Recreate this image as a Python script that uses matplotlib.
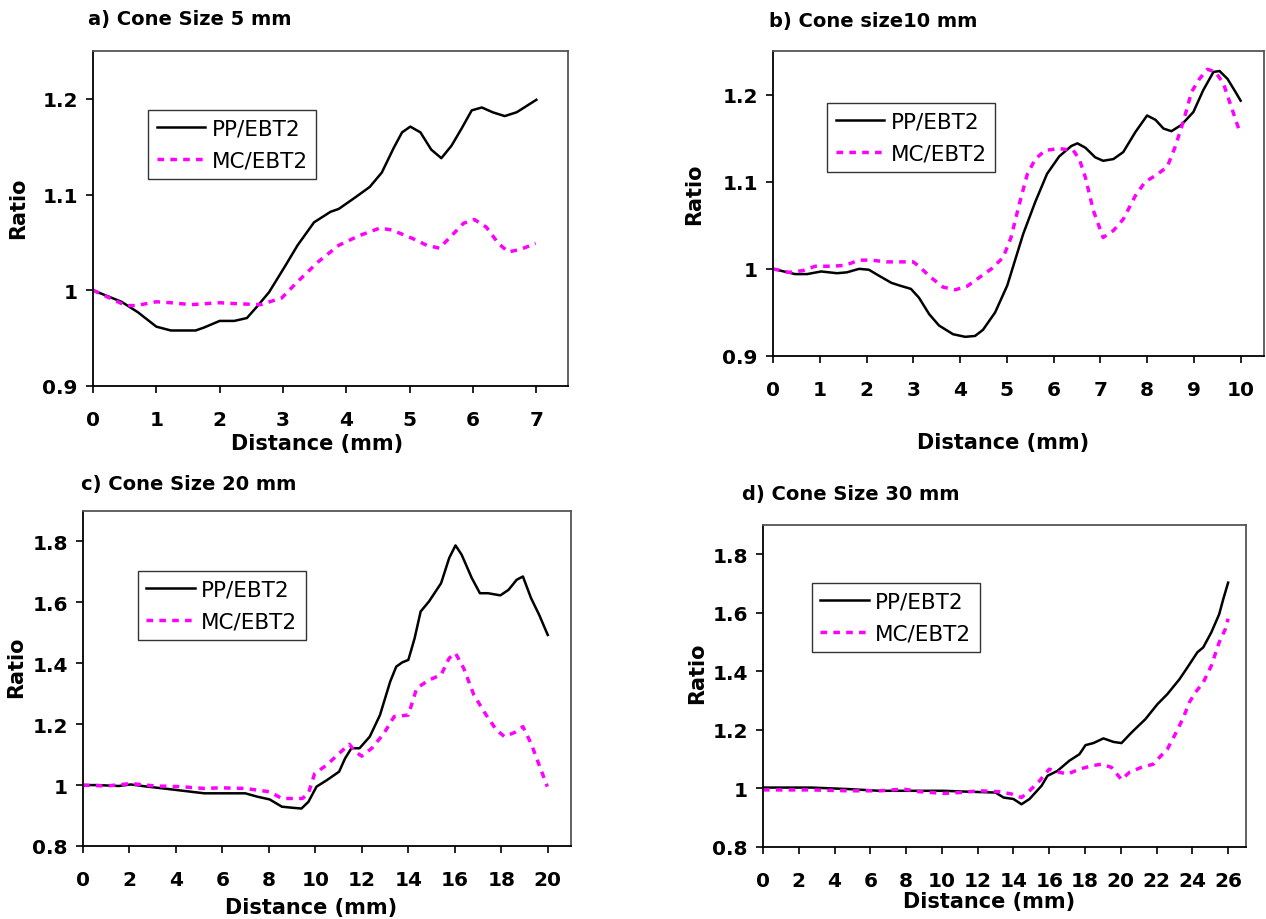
"""Cone size ratio profiles: PP/EBT2 and MC/EBT2."""
import matplotlib
matplotlib.use("Agg")
import matplotlib.pyplot as plt

# ---- data ----
a_pp_x = [0, 0.45, 0.71, 1.0, 1.23, 1.62, 1.75, 2.0, 2.23, 2.43, 2.59, 2.78, 3.04, 3.23, 3.49,
          3.75, 3.88, 4.14, 4.37, 4.56, 4.75, 4.88, 5.01, 5.17, 5.34, 5.5, 5.66, 5.82, 5.98,
          6.14, 6.31, 6.5, 6.69, 7.0]
a_pp_y = [1.0, 0.988, 0.977, 0.962, 0.958, 0.958, 0.961, 0.968, 0.968, 0.971, 0.983, 0.998,
          1.026, 1.047, 1.071, 1.082, 1.085, 1.097, 1.108, 1.123, 1.149, 1.165, 1.171, 1.165,
          1.147, 1.138, 1.151, 1.169, 1.188, 1.191, 1.186, 1.182, 1.186, 1.199]
a_mc_x = [0, 0.23, 0.52, 0.68, 1.0, 1.23, 1.55, 2.0, 2.26, 2.65, 2.98, 3.23, 3.56, 3.88, 4.2,
          4.53, 4.72, 5.05, 5.27, 5.47, 5.69, 5.85, 6.02, 6.21, 6.4, 6.56, 6.76, 6.99]
a_mc_y = [1.0, 0.993, 0.984, 0.984, 0.988, 0.987, 0.985, 0.987, 0.986, 0.985, 0.992, 1.009,
          1.030, 1.047, 1.057, 1.065, 1.063, 1.054, 1.047, 1.044, 1.059, 1.070, 1.074, 1.066,
          1.049, 1.040, 1.043, 1.049]

b_pp_x = [0, 0.47, 0.73, 1.03, 1.37, 1.58, 1.84, 2.05, 2.27, 2.53, 2.7, 2.95, 3.12, 3.34, 3.55,
          3.85, 4.11, 4.32, 4.49, 4.75, 5.01, 5.35, 5.61, 5.86, 6.12, 6.38, 6.51, 6.68, 6.89,
          7.06, 7.28, 7.49, 7.75, 8.0, 8.18, 8.35, 8.52, 8.73, 8.99, 9.2, 9.42, 9.55, 9.72,
          9.89, 10.0]
b_pp_y = [1.0, 0.994, 0.994, 0.997, 0.995, 0.996, 1.0, 0.999, 0.992, 0.984, 0.981, 0.977,
          0.967, 0.948, 0.935, 0.925, 0.922, 0.923, 0.930, 0.950, 0.981, 1.040, 1.077, 1.109,
          1.129, 1.141, 1.144, 1.139, 1.128, 1.124, 1.126, 1.134, 1.157, 1.176, 1.171, 1.161,
          1.158, 1.165, 1.180, 1.205, 1.226, 1.227, 1.218, 1.203, 1.193]
b_mc_x = [0, 0.34, 0.64, 0.9, 1.24, 1.54, 1.84, 2.1, 2.44, 2.74, 3.0, 3.12, 3.38, 3.64, 3.9,
          4.15, 4.41, 4.67, 4.92, 5.09, 5.27, 5.44, 5.61, 5.82, 6.12, 6.42, 6.55, 6.68, 6.85,
          7.06, 7.28, 7.49, 7.75, 7.96, 8.18, 8.43, 8.6, 8.78, 8.95, 9.12, 9.29, 9.46, 9.63,
          9.8, 9.97]
b_mc_y = [1.0, 0.996, 0.998, 1.003, 1.003, 1.004, 1.010, 1.010, 1.008, 1.008, 1.008, 1.003,
          0.990, 0.979, 0.976, 0.980, 0.990, 1.0, 1.013, 1.036, 1.075, 1.109, 1.126, 1.136,
          1.138, 1.136, 1.126, 1.105, 1.067, 1.036, 1.044, 1.057, 1.084, 1.100, 1.107, 1.117,
          1.140, 1.170, 1.203, 1.218, 1.229, 1.226, 1.213, 1.186, 1.159]

c_pp_x = [0, 0.65, 1.53, 2.06, 2.76, 3.46, 4.34, 5.22, 6.1, 6.98, 7.5, 8.03, 8.56, 9.09, 9.4,
          9.7, 10.05, 10.49, 11.02, 11.28, 11.55, 11.9, 12.34, 12.78, 13.22, 13.48, 13.74, 14.0,
          14.27, 14.53, 14.89, 15.41, 15.76, 16.03, 16.29, 16.73, 17.08, 17.43, 17.96, 18.31,
          18.66, 18.93, 19.28, 19.63, 20.0]
c_pp_y = [1.0, 1.0, 0.997, 1.002, 0.995, 0.989, 0.981, 0.973, 0.973, 0.973, 0.962, 0.953,
          0.929, 0.925, 0.923, 0.945, 0.995, 1.016, 1.044, 1.088, 1.121, 1.121, 1.159, 1.23,
          1.34, 1.389, 1.403, 1.411, 1.482, 1.57, 1.603, 1.663, 1.746, 1.787, 1.757, 1.68, 1.63,
          1.63, 1.623, 1.641, 1.674, 1.685, 1.614, 1.559, 1.493]
c_mc_x = [0, 1.0, 2.06, 3.11, 4.17, 5.22, 5.92, 6.98, 8.03, 8.56, 9.44, 9.7, 9.97, 10.49,
          11.02, 11.46, 11.72, 11.99, 12.43, 12.95, 13.39, 14.0, 14.36, 14.89, 15.41, 15.76,
          16.03, 16.38, 16.82, 17.35, 17.79, 18.14, 18.58, 18.93, 19.28, 19.63, 19.98]
c_mc_y = [1.0, 0.997, 1.005, 0.997, 0.995, 0.989, 0.991, 0.989, 0.978, 0.956, 0.956, 0.973,
          1.038, 1.066, 1.104, 1.134, 1.110, 1.095, 1.121, 1.17, 1.225, 1.23, 1.318, 1.345,
          1.362, 1.417, 1.433, 1.384, 1.296, 1.23, 1.181, 1.159, 1.173, 1.192, 1.137, 1.066,
          0.995]

d_pp_x = [0, 2.72, 4.74, 6.52, 8.76, 10.1, 11.44, 13.0, 13.45, 14.0, 14.45, 14.9, 15.57,
          15.9, 16.46, 17.13, 17.69, 18.03, 18.47, 19.03, 19.59, 20.04, 20.6, 21.38, 22.05,
          22.6, 23.28, 23.72, 24.28, 24.61, 25.06, 25.5, 25.73, 26.0]
d_pp_y = [1.003, 1.003, 0.998, 0.992, 0.992, 0.992, 0.989, 0.986, 0.969, 0.964, 0.946, 0.964,
          1.009, 1.043, 1.06, 1.095, 1.117, 1.148, 1.155, 1.171, 1.159, 1.155, 1.191, 1.237,
          1.288, 1.322, 1.373, 1.413, 1.465, 1.482, 1.533, 1.595, 1.647, 1.703]
d_mc_x = [0, 2.72, 4.74, 6.52, 7.86, 8.76, 10.1, 11.0, 12.1, 13.2, 13.9, 14.45, 14.9, 15.46,
          16.0, 16.46, 17.02, 17.69, 18.36, 18.92, 19.48, 20.04, 20.48, 21.15, 21.82, 22.16,
          22.6, 23.05, 23.5, 23.83, 24.17, 24.61, 25.06, 25.5, 25.84, 26.0]
d_mc_y = [0.995, 0.995, 0.992, 0.992, 0.998, 0.989, 0.983, 0.986, 0.992, 0.989, 0.981, 0.969,
          0.992, 1.026, 1.066, 1.057, 1.049, 1.066, 1.077, 1.083, 1.072, 1.03, 1.055, 1.072,
          1.083, 1.106, 1.134, 1.186, 1.242, 1.294, 1.328, 1.362, 1.419, 1.499, 1.544, 1.58]

titles = ["a) Cone Size 5 mm", "b) Cone size10 mm", "c) Cone Size 20 mm", "d) Cone Size 30 mm"]
series_names = ["PP/EBT2", "MC/EBT2"]
xticks = [list(range(0, 8)), list(range(0, 11)), list(range(0, 21, 2)), list(range(0, 27, 2))]
yticks = [[0.9, 1.0, 1.1, 1.2], [0.9, 1.0, 1.1, 1.2],
          [0.8, 1.0, 1.2, 1.4, 1.6, 1.8], [0.8, 1.0, 1.2, 1.4, 1.6, 1.8]]
ytick_labels = [["0.9", "1", "1.1", "1.2"], ["0.9", "1", "1.1", "1.2"],
                ["0.8", "1", "1.2", "1.4", "1.6", "1.8"], ["0.8", "1", "1.2", "1.4", "1.6", "1.8"]]
xlims = [(0, 7.5), (0, 10.5), (0, 21), (0, 27)]
ylims = [(0.9, 1.25), (0.9, 1.25), (0.8, 1.9), (0.8, 1.9)]

panels = [(a_pp_x, a_pp_y, a_mc_x, a_mc_y), (b_pp_x, b_pp_y, b_mc_x, b_mc_y),
          (c_pp_x, c_pp_y, c_mc_x, c_mc_y), (d_pp_x, d_pp_y, d_mc_x, d_mc_y)]

# ---- layout (pixel based, figure 1266x920) ----
W, H = 1266, 920
boxes = [(93, 52, 568, 387), (773, 52, 1264, 357), (83, 512, 571, 847), (763, 526, 1246, 848)]
title_pos = [(88, 20), (769, 21), (81, 485), (742, 495)]
xlabel_pos = [(0.472, -0.17), (0.468, -0.282), (0.467, -0.182), (0.468, -0.168)]
ylabel_pos = [(-0.157, 0.534), (-0.161, 0.534), (-0.137, 0.537), (-0.137, 0.543)]
legend_pos = [(0.116, 0.824), (0.11, 0.83), (0.112, 0.822), (0.101, 0.82)]

plt.rcParams["font.family"] = ["DejaVu Sans"]

fig = plt.figure(figsize=(W / 100, H / 100), dpi=100)

for i, (pp_x, pp_y, mc_x, mc_y) in enumerate(panels):
    l, t, r, b = boxes[i]
    ax = fig.add_axes([l / W, 1 - b / H, (r - l) / W, (b - t) / H])
    ax.plot(pp_x, pp_y, color="black", lw=1.8, label=series_names[0])
    ax.plot(mc_x, mc_y, color="#FF00FF", lw=2.5, linestyle=(0, (1.9, 1.8)),
            dash_capstyle="butt", label=series_names[1])
    ax.set_xlim(*xlims[i])
    ax.set_ylim(*ylims[i])
    ax.set_xticks(xticks[i])
    ax.set_xticklabels([str(v) for v in xticks[i]], fontsize=14.5, fontweight="bold")
    ax.set_yticks(yticks[i])
    ax.set_yticklabels(ytick_labels[i], fontsize=14.5, fontweight="bold")
    ax.tick_params(axis="x", direction="out", length=5, width=1.2, pad=12)
    ax.tick_params(axis="y", direction="out", length=5, width=1.2, pad=6)
    for side in ["left", "bottom"]:
        ax.spines[side].set_color("black")
        ax.spines[side].set_linewidth(1.3)
    for side in ["top", "right"]:
        ax.spines[side].set_color("#555555")
        ax.spines[side].set_linewidth(1.3)

    ax.set_xlabel("Distance (mm)", fontsize=15, fontweight="bold")
    ax.xaxis.set_label_coords(*xlabel_pos[i])
    ax.xaxis.label.set_va("center")
    ax.set_ylabel("Ratio", fontsize=15, fontweight="bold")
    ax.yaxis.set_label_coords(*ylabel_pos[i])
    ax.yaxis.label.set_va("center")

    leg = ax.legend(loc="upper left", bbox_to_anchor=legend_pos[i], borderaxespad=0,
                    fontsize=15.5, handlelength=2.25, handletextpad=0.3, labelspacing=0.55,
                    borderpad=0.4, fancybox=False, framealpha=1, edgecolor="#333333")
    leg.get_frame().set_linewidth(1.0)

    tx, ty = title_pos[i]
    fig.text(tx / W, 1 - ty / H, titles[i], fontsize=14, fontweight="bold",
             ha="left", va="center")

fig.savefig("out.png", dpi=100)
